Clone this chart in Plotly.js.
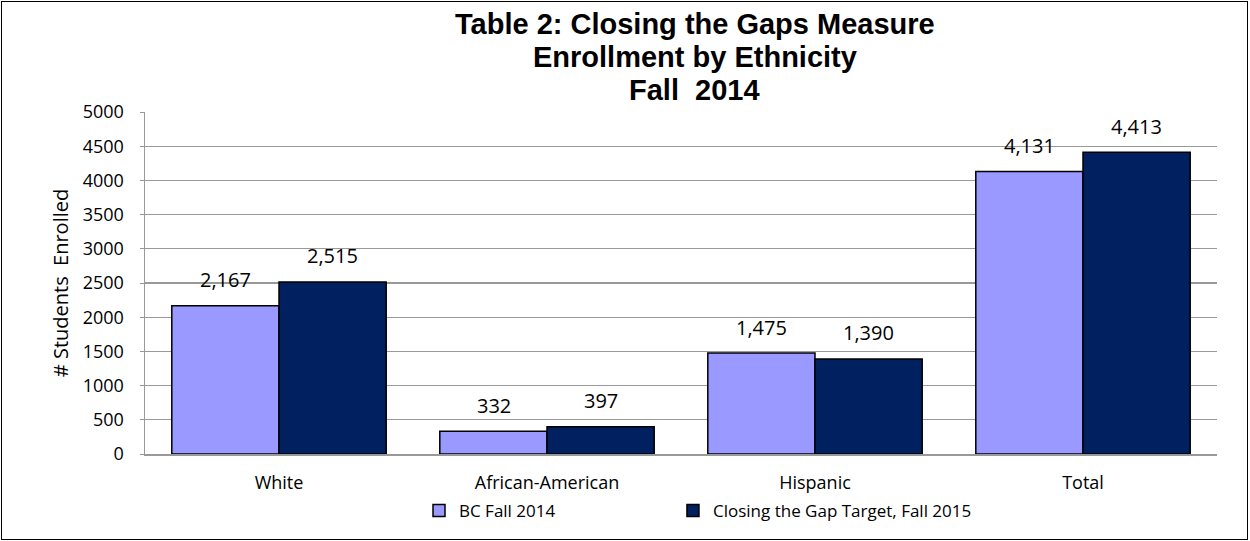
<!DOCTYPE html>
<html><head><meta charset="utf-8">
<script src="https://cdn.plot.ly/plotly-3.0.1.min.js"></script>
<style>body{margin:0;padding:0;background:#fff}#wrap{position:relative;width:1250px;height:541px}#chart{width:1250px;height:541px}#frame{position:absolute;left:1px;top:1px;width:1245px;height:537px;border:1px solid #000;pointer-events:none}</style>
</head><body>
<div id="wrap"><div id="chart"></div><div id="frame"></div></div>
<script>
const categories = ["White", "African-American", "Hispanic", "Total"];
const bcFall2014 = [2167, 332, 1475, 4131];
const target2015 = [2515, 397, 1390, 4413];
const seriesNames = ["BC Fall 2014", "Closing the Gap Target, Fall 2015"];
const yTicks = [0, 500, 1000, 1500, 2000, 2500, 3000, 3500, 4000, 4500, 5000];
const titleLines = ["Table 2: Closing the Gaps Measure", "Enrollment by Ethnicity", "Fall  2014"];

const fmt = v => v.toLocaleString('en-US');
const font = "Open Sans, Noto Sans, DejaVu Sans, sans-serif";

const traces = [
  {type:'bar', name:seriesNames[0], x:categories, y:bcFall2014, legend:'legend',
   marker:{color:'#9999FF', line:{color:'#000', width:1.5}}},
  {type:'bar', name:seriesNames[1], x:categories, y:target2015, legend:'legend2',
   marker:{color:'#002060', line:{color:'#000', width:1.5}}}
];

const plotTop = 112, plotH = 342;
const annotations = [];
[bcFall2014, target2015].forEach((arr, si) => {
  arr.forEach((v, i) => {
    annotations.push({x:i, y:v, xref:'x', yref:'y', text:fmt(v), showarrow:false,
      xshift: si === 0 ? -53.5 : 53.5, yshift:26, font:{family:font, size:20, color:'#000'}});
  });
});
const titleCenters = [24, 57, 90];
titleLines.forEach((t, k) => {
  annotations.push({xref:'paper', yref:'paper', x:0.513, xanchor:'center',
    y:(plotTop + plotH - titleCenters[k]) / plotH, yanchor:'middle', showarrow:false,
    text:'<b>' + t + '</b>', font:{family:'Liberation Sans, Arial, sans-serif', size:29, color:'#000'}});
});

const legendBase = {orientation:'h', xanchor:'left', y:-0.114, yanchor:'top',
  font:{family:font, size:17, color:'#000'}, itemwidth:30, bgcolor:'rgba(0,0,0,0)'};

const layout = {
  width:1250, height:541,
  margin:{l:145, r:33, t:plotTop, b:87},
  paper_bgcolor:'#fff', plot_bgcolor:'#fff',
  barmode:'group', bargap:0.2, bargroupgap:0,
  xaxis:{type:'category', showline:true, linecolor:'#999', linewidth:1.5, showgrid:false,
    ticks:'', ticklabelstandoff:12, tickfont:{family:font, size:18, color:'#000'}, fixedrange:true},
  yaxis:{range:[0,5000], tickvals:yTicks, showline:true, linecolor:'#999', linewidth:1.5,
    gridcolor:'#999', gridwidth:1.3, ticks:'outside', ticklen:4, tickcolor:'#999', zeroline:false,
    ticklabelstandoff:12,
    tickfont:{family:font, size:18, color:'#000'},
    title:{text:'# Students  Enrolled', font:{family:font, size:20, color:'#000'}, standoff:8}},
  legend:Object.assign({}, legendBase, {x:0.2556}),
  legend2:Object.assign({}, legendBase, {x:0.4925}),
  annotations:annotations,
  showlegend:true
};
Plotly.newPlot('chart', traces, layout, {displayModeBar:false, staticPlot:true});
</script>
</body></html>
